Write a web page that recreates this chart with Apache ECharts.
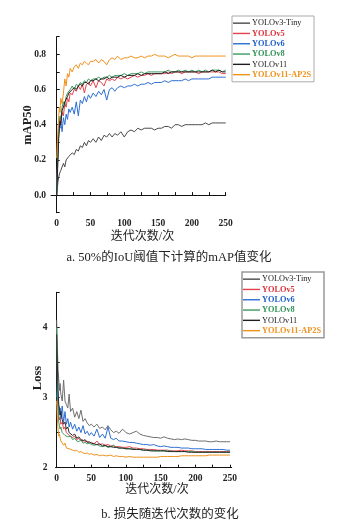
<!DOCTYPE html>
<html><head><meta charset="utf-8">
<script src="https://cdn.jsdelivr.net/npm/echarts@6/dist/echarts.min.js"></script>
<style>html,body{margin:0;padding:0;background:#fff}#c{width:348px;height:532px}</style>
</head><body><div id="c"></div>
<script>
const names = ['YOLOv3-Tiny','YOLOv5','YOLOv6','YOLOv8','YOLOv11','YOLOv11-AP2S'];
const epochs = [0,1,2,3,4,5,6,8,10,12,14,16,18,20,23,26,29,32,35,38,41,44,47,50,54,58,62,66,70,74,78,82,86,90,95,100,105,110,115,120,125,130,135,140,145,150,155,160,165,170,175,180,185,190,195,200,205,210,215,220,225,230,235,240,245,250];

// mAP50
const mapV3Tiny = [0.00,0.04,0.08,0.10,0.12,0.11,0.14,0.15,0.18,0.16,0.20,0.19,0.22,0.21,0.24,0.23,0.26,0.25,0.28,0.27,0.30,0.28,0.31,0.30,0.32,0.30,0.33,0.31,0.34,0.33,0.35,0.33,0.35,0.34,0.36,0.33,0.36,0.37,0.36,0.38,0.37,0.38,0.38,0.38,0.37,0.38,0.38,0.39,0.39,0.38,0.40,0.40,0.39,0.40,0.40,0.40,0.40,0.40,0.40,0.41,0.40,0.41,0.41,0.41,0.41,0.41];
const mapV5 = [0.00,0.15,0.28,0.38,0.42,0.44,0.41,0.47,0.45,0.52,0.50,0.55,0.53,0.58,0.57,0.60,0.59,0.62,0.60,0.63,0.58,0.63,0.64,0.62,0.65,0.61,0.65,0.64,0.62,0.66,0.65,0.66,0.65,0.67,0.66,0.67,0.66,0.67,0.68,0.67,0.68,0.68,0.69,0.68,0.69,0.69,0.69,0.69,0.70,0.69,0.70,0.70,0.69,0.70,0.70,0.70,0.70,0.69,0.70,0.70,0.70,0.70,0.70,0.70,0.69,0.69];
const mapV6 = [0.00,0.15,0.28,0.36,0.40,0.38,0.42,0.36,0.44,0.40,0.46,0.43,0.49,0.47,0.50,0.46,0.53,0.45,0.54,0.52,0.56,0.53,0.57,0.55,0.58,0.56,0.59,0.57,0.60,0.54,0.60,0.61,0.59,0.61,0.62,0.61,0.62,0.62,0.63,0.62,0.63,0.63,0.64,0.63,0.64,0.64,0.64,0.65,0.64,0.65,0.65,0.65,0.65,0.66,0.65,0.66,0.66,0.66,0.66,0.66,0.66,0.67,0.67,0.67,0.67,0.67];
const mapV8 = [0.00,0.12,0.25,0.35,0.40,0.45,0.43,0.50,0.53,0.51,0.56,0.58,0.57,0.60,0.62,0.60,0.63,0.62,0.64,0.63,0.65,0.64,0.66,0.65,0.66,0.66,0.67,0.66,0.67,0.67,0.68,0.67,0.68,0.68,0.68,0.69,0.68,0.69,0.69,0.69,0.70,0.69,0.70,0.70,0.70,0.70,0.70,0.70,0.71,0.70,0.70,0.71,0.70,0.71,0.70,0.71,0.70,0.71,0.70,0.71,0.70,0.71,0.71,0.71,0.70,0.71];
const mapV11 = [0.00,0.10,0.22,0.32,0.38,0.42,0.40,0.48,0.50,0.53,0.52,0.56,0.58,0.57,0.60,0.61,0.60,0.62,0.63,0.62,0.64,0.64,0.63,0.65,0.65,0.66,0.65,0.66,0.66,0.67,0.66,0.67,0.67,0.67,0.68,0.67,0.68,0.68,0.68,0.69,0.68,0.69,0.69,0.69,0.69,0.69,0.69,0.70,0.69,0.70,0.70,0.70,0.70,0.70,0.70,0.70,0.70,0.70,0.70,0.70,0.70,0.71,0.70,0.71,0.70,0.70];
const mapAP2S = [0.21,0.30,0.38,0.45,0.50,0.47,0.55,0.52,0.58,0.66,0.62,0.69,0.67,0.72,0.70,0.73,0.74,0.72,0.75,0.74,0.76,0.75,0.74,0.76,0.76,0.77,0.75,0.77,0.76,0.74,0.77,0.78,0.77,0.79,0.77,0.78,0.78,0.79,0.78,0.78,0.79,0.78,0.79,0.79,0.80,0.79,0.79,0.79,0.78,0.79,0.80,0.79,0.79,0.79,0.79,0.78,0.79,0.79,0.79,0.79,0.79,0.79,0.79,0.79,0.79,0.79];

// Loss
const lossV3Tiny = [4.10,3.70,3.40,3.25,3.10,3.20,3.05,2.95,3.25,2.95,2.90,2.85,3.05,2.80,2.85,2.72,2.80,2.70,2.82,2.66,2.70,2.64,2.60,2.62,2.58,2.62,2.56,2.58,2.54,2.60,2.54,2.50,2.52,2.49,2.55,2.50,2.48,2.50,2.52,2.48,2.46,2.45,2.44,2.43,2.43,2.42,2.44,2.42,2.41,2.40,2.41,2.40,2.41,2.40,2.39,2.39,2.38,2.38,2.38,2.37,2.37,2.38,2.37,2.37,2.37,2.37];
const lossV5 = [2.90,3.00,2.85,2.75,2.68,2.72,2.62,2.65,2.55,2.58,2.50,2.52,2.46,2.48,2.43,2.45,2.40,2.42,2.38,2.40,2.37,2.38,2.35,2.36,2.34,2.38,2.33,2.34,2.32,2.33,2.31,2.31,2.30,2.30,2.29,2.29,2.30,2.28,2.28,2.27,2.27,2.26,2.26,2.26,2.25,2.25,2.25,2.25,2.24,2.24,2.24,2.25,2.24,2.24,2.24,2.23,2.23,2.23,2.23,2.23,2.23,2.23,2.23,2.23,2.23,2.23];
const lossV6 = [3.00,3.20,2.95,2.80,2.75,2.85,2.70,2.88,2.65,2.80,2.62,2.70,2.58,2.65,2.55,2.62,2.52,2.58,2.50,2.60,2.48,2.52,2.46,2.50,2.45,2.55,2.43,2.48,2.42,2.58,2.42,2.40,2.42,2.38,2.38,2.37,2.36,2.36,2.35,2.34,2.33,2.33,2.32,2.33,2.31,2.30,2.31,2.30,2.29,2.29,2.29,2.28,2.28,2.28,2.27,2.27,2.27,2.27,2.26,2.26,2.26,2.26,2.26,2.26,2.25,2.25];
const lossV8 = [4.00,3.20,2.80,2.65,2.60,2.55,2.58,2.50,2.52,2.46,2.48,2.44,2.42,2.45,2.40,2.42,2.38,2.37,2.40,2.35,2.36,2.34,2.35,2.33,2.32,2.33,2.31,2.30,2.31,2.29,2.30,2.32,2.29,2.28,2.28,2.27,2.27,2.27,2.26,2.26,2.25,2.25,2.25,2.24,2.24,2.24,2.24,2.24,2.24,2.23,2.23,2.23,2.23,2.23,2.23,2.22,2.22,2.22,2.22,2.22,2.22,2.22,2.22,2.22,2.22,2.22];
const lossV11 = [3.90,3.50,3.10,2.90,2.85,2.75,2.80,2.68,2.62,2.65,2.55,2.58,2.50,2.52,2.46,2.48,2.42,2.44,2.40,2.38,2.40,2.36,2.37,2.35,2.34,2.33,2.34,2.31,2.32,2.30,2.30,2.29,2.29,2.28,2.28,2.27,2.27,2.26,2.26,2.26,2.25,2.25,2.24,2.24,2.24,2.24,2.24,2.23,2.23,2.23,2.23,2.23,2.23,2.22,2.22,2.22,2.22,2.22,2.22,2.22,2.22,2.22,2.22,2.22,2.22,2.22];
const lossAP2S = [2.95,2.70,2.55,2.45,2.48,2.42,2.38,2.40,2.32,2.35,2.28,2.30,2.27,2.28,2.25,2.24,2.25,2.22,2.23,2.21,2.20,2.21,2.19,2.20,2.18,2.19,2.17,2.18,2.17,2.17,2.18,2.16,2.17,2.16,2.16,2.15,2.16,2.15,2.15,2.15,2.15,2.15,2.15,2.15,2.15,2.16,2.16,2.16,2.16,2.16,2.16,2.17,2.17,2.17,2.17,2.17,2.17,2.17,2.17,2.18,2.18,2.18,2.18,2.18,2.18,2.18];

const mapTicksMajor = [0,0.2,0.4,0.6,0.8];
const mapTicksAll = [-0.1,0,0.1,0.2,0.3,0.4,0.5,0.6,0.7,0.8,0.9];
const xTicksMajor = [0,50,100,150,200,250];
const xTicksAll = [0,25,50,75,100,125,150,175,200,225,250];
const lossTicksMajor = [2,3,4];
const lossTicksAll = [2,2.5,3,3.5,4,4.5];

const topColors = ['#4a4a4a','#e5414b','#2e6fd3','#3c9a5e','#1e1e1e','#f0911c'];
const botColors = ['#6e6e6e','#e5414b','#2e6fd3','#3c9a5e','#2a2a2a','#f0911c'];
const textColors = ['#222','#e0303a','#1f5fc8','#2f9354','#222','#f0911c'];
const boldFlags = [false,true,true,true,false,true];

const mapSets = [mapV3Tiny,mapV5,mapV6,mapV8,mapV11,mapAP2S];
const lossSets = [lossV3Tiny,lossV5,lossV6,lossV8,lossV11,lossAP2S];
const zip = vals => epochs.map((e,i)=>[e, vals[i]]);

const SERIF = 'Liberation Serif, Times New Roman, serif';
const CJK = 'Liberation Serif, Noto Sans CJK SC, sans-serif';
const axisLine = {show:true, lineStyle:{color:'#111', width:1}};
const lbl = {fontFamily:SERIF, fontWeight:'bold', fontSize:9.5, color:'#222'};

function xAxis(gi, min, max){
  return {type:'value', gridIndex:gi, min, max, axisLine, splitLine:{show:false},
    axisTick:{show:true, inside:true, length:3, customValues:xTicksAll, lineStyle:{color:'#111'}},
    axisLabel:Object.assign({customValues:xTicksMajor, margin:6}, lbl)};
}
const series = [];
names.forEach((n,i)=>{
  series.push({name:n, type:'line', xAxisIndex:0, yAxisIndex:0, data:zip(mapSets[i]), showSymbol:false, symbol:'none',
    lineStyle:{width:1, color:topColors[i]}, itemStyle:{color:topColors[i]}});
});
names.forEach((n,i)=>{
  series.push({name:n, type:'line', xAxisIndex:1, yAxisIndex:1, data:zip(lossSets[i]), showSymbol:false, symbol:'none',
    lineStyle:{width:1, color:botColors[i]}, itemStyle:{color:botColors[i]}});
});
function legend(left, top, bc, bw){
  return {orient:'vertical', left, top, padding:[2,3,2,1], itemGap:0, itemWidth:17, itemHeight:1.4,
    icon:'rect', borderColor:bc, borderWidth:bw, backgroundColor:'#fff', selectedMode:false,
    data:names.map((n,i)=>({name:n, textStyle:{color:textColors[i], fontWeight:boldFlags[i]?'bold':'normal'}})),
    textStyle:{fontFamily:SERIF, fontSize:8.3, lineHeight:10.3, padding:[0,0,0,-3]}};
}
const option = {
  animation:false,
  grid:[{left:51, top:36.7, width:174.7, height:176, containLabel:false},
        {left:55.5, top:292.3, width:176.2, height:175.4, containLabel:false}],
  xAxis:[xAxis(0,-8.4,250), xAxis(1,-1.7,252.5)],
  yAxis:[
    {type:'value', gridIndex:0, min:-0.1, max:0.9, axisLine, splitLine:{show:false},
     axisTick:{show:true, inside:true, length:3, customValues:mapTicksAll, lineStyle:{color:'#111'}},
     axisLabel:Object.assign({customValues:mapTicksMajor, margin:5, formatter:v=>v.toFixed(1)}, lbl)},
    {type:'value', gridIndex:1, min:2, max:4.5, axisLine, splitLine:{show:false},
     axisTick:{show:true, inside:true, length:3, customValues:lossTicksAll, lineStyle:{color:'#111'}},
     axisLabel:Object.assign({customValues:lossTicksMajor, margin:8}, lbl)}
  ],
  legend:[legend(232,16,'#aaa',1), legend(242,272,'#999',1.5)],
  series,
  graphic:[
    {type:'text', x:28, y:125, rotation:Math.PI/2, style:{text:'mAP50', font:'bold 12.5px '+SERIF, fill:'#222', textAlign:'center', textVerticalAlign:'middle'}},
    {type:'text', x:142.5, y:237, style:{text:'迭代次数/次', font:'12px '+CJK, fill:'#222', textAlign:'center', textVerticalAlign:'middle'}},
    {type:'text', x:169, y:258, style:{text:'a. 50%的IoU阈值下计算的mAP值变化', font:'12.5px '+CJK, fill:'#222', textAlign:'center', textVerticalAlign:'middle'}},
    {type:'text', x:38, y:378, rotation:Math.PI/2, style:{text:'Loss', font:'bold 12.5px '+SERIF, fill:'#222', textAlign:'center', textVerticalAlign:'middle'}},
    {type:'text', x:157, y:490, style:{text:'迭代次数/次', font:'12px '+CJK, fill:'#222', textAlign:'center', textVerticalAlign:'middle'}},
    {type:'text', x:170, y:515, style:{text:'b. 损失随迭代次数的变化', font:'12.5px '+CJK, fill:'#222', textAlign:'center', textVerticalAlign:'middle'}}
  ]
};
const chart = echarts.init(document.getElementById('c'), null, {renderer:'canvas'});
chart.setOption(option);
</script></body></html>
